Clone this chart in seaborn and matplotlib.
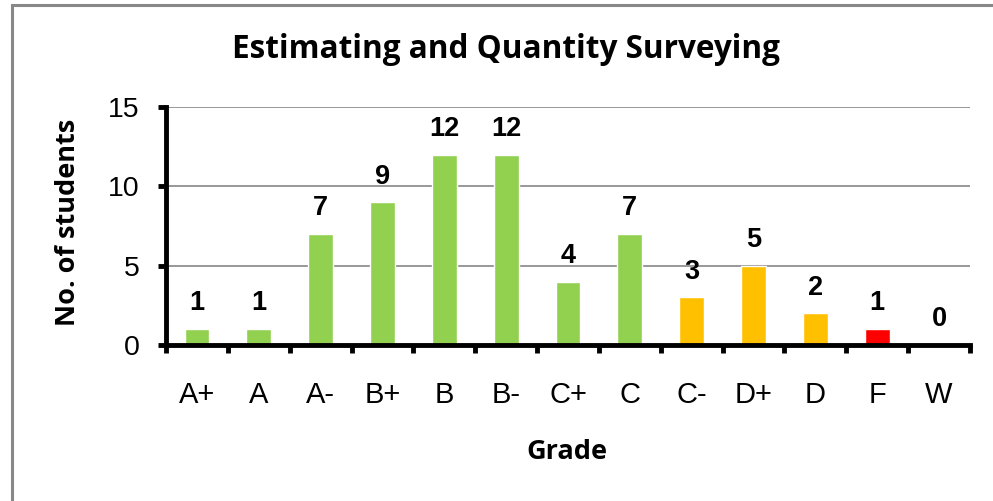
import matplotlib
matplotlib.use("Agg")
import matplotlib.pyplot as plt
import seaborn as sns
from matplotlib.patches import Rectangle
from matplotlib.ticker import FixedLocator

grades = ["A+", "A", "A-", "B+", "B", "B-", "C+", "C", "C-", "D+", "D", "F", "W"]
counts = [1, 1, 7, 9, 12, 12, 4, 7, 3, 5, 2, 1, 0]
bar_colors = ["#92D050"] * 8 + ["#FFC000"] * 3 + ["#FF0000", "#FF0000"]
title = "Estimating and Quantity Surveying"
xlabel = "Grade"
ylabel = "No. of students"
yticks = [0, 5, 10, 15]

sns.set_theme(style="white")
plt.rcParams["font.family"] = ["Liberation Sans", "DejaVu Sans"]

fig = plt.figure(figsize=(9.93, 5.01), dpi=100)
ax = fig.add_axes([166 / 993, 1 - 345 / 501, (970 - 166) / 993, (345 - 107) / 501])

sns.barplot(x=grades, y=counts, hue=grades, palette=bar_colors, legend=False,
            width=0.4, saturation=1, ax=ax)

ax.set_xlim(-0.5, 12.5)
ax.set_ylim(0, 15)
ax.set_yticks(yticks)
ax.yaxis.grid(True, color="#868686", linewidth=1.2)
ax.set_axisbelow(True)
for s in ["top", "right"]:
    ax.spines[s].set_visible(False)
for s in ["left", "bottom"]:
    ax.spines[s].set_color("black")
    ax.spines[s].set_linewidth(3.5)

ax.tick_params(axis="y", which="major", direction="out", length=6, width=3.5,
               color="black", labelsize=20.5, pad=13, left=True)
ax.tick_params(axis="x", which="major", length=0, labelsize=21, pad=26)
ax.xaxis.set_minor_locator(FixedLocator([i - 0.5 for i in range(len(grades) + 1)]))
ax.tick_params(axis="x", which="minor", direction="out", length=6, width=3.5,
               color="black", bottom=True)
for lbl in ax.get_xticklabels() + ax.get_yticklabels():
    lbl.set_color("black")

for i, v in enumerate(counts):
    ax.text(i, v + 0.8, str(v), ha="center", va="bottom", fontsize=19.5,
            fontweight="bold", color="black")

ax.set_xlabel("")
ax.set_ylabel("")
fig.text(506 / 993, 1 - 50 / 501, title, ha="center", va="center", fontsize=22.7,
         fontweight="bold", family=["Open Sans", "DejaVu Sans"], color="black")
fig.text(567 / 993, 1 - 452 / 501, xlabel, ha="center", va="center", fontsize=19.5,
         fontweight="bold", family=["Open Sans", "DejaVu Sans"], color="black")
fig.text(68 / 993, 1 - 222 / 501, ylabel, ha="center", va="center", fontsize=19.5,
         fontweight="bold", rotation=90, family=["Open Sans", "DejaVu Sans"], color="black")

fig.patches.append(Rectangle((12 / 993, -0.1), 1.2, 1 - 4.5 / 501 + 0.1,
                             transform=fig.transFigure, fill=False,
                             edgecolor="#888888", linewidth=2.2))

fig.savefig("out.png", dpi=100)
